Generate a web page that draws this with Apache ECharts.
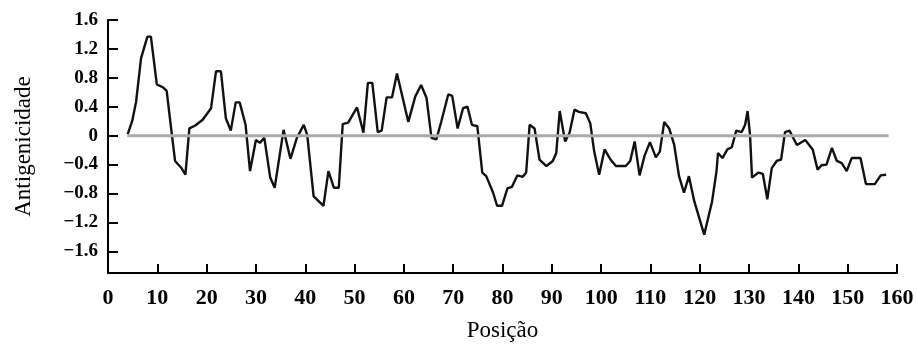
<!DOCTYPE html>
<html>
<head>
<meta charset="utf-8">
<script src="https://cdn.jsdelivr.net/npm/echarts@6/dist/echarts.min.js"></script>
<style>
  html, body { margin: 0; padding: 0; background: #fff; }
  #chart { width: 917px; height: 347px; }
</style>
</head>
<body>
<div id="chart"></div>
<script>
// posição (x) e antigenicidade (y)
var positions = [
  4.0, 4.9, 5.7, 6.7, 7.6, 8.0, 8.7, 9.9, 11.1, 11.9, 12.8, 13.6, 14.8, 15.7,
  16.5, 17.7, 19.2, 20.9, 21.9, 22.9, 23.9, 24.9, 25.9, 26.7, 27.9, 28.8,
  30.0, 30.8, 31.7, 32.9, 33.8, 35.6, 37.0, 38.3, 39.7, 40.4, 41.7, 43.7,
  44.7, 45.8, 46.8, 47.6, 48.7, 50.5, 51.8, 52.7, 53.6, 54.7, 55.5, 56.5,
  57.6, 58.6, 60.9, 62.3, 63.5, 64.6, 65.6, 66.6, 67.6, 69.0, 69.8, 70.9,
  72.0, 72.9, 73.8, 74.9, 75.9, 76.7, 78.1, 78.9, 79.9, 81.0, 81.9, 83.0,
  84.1, 84.8, 85.5, 86.5, 87.5, 88.9, 90.2, 90.9, 91.6, 92.7, 93.6, 94.6,
  95.5, 96.9, 97.8, 98.6, 99.6, 100.7, 101.9, 103.0, 105.0, 105.9, 106.8,
  107.8, 108.8, 109.9, 111.1, 111.9, 112.8, 113.8, 114.8, 115.8, 116.8,
  117.8, 118.9, 120.9, 122.5, 123.4, 123.7, 124.6, 125.6, 126.5, 127.4,
  128.5, 129.2, 129.7, 130.2, 130.6, 131.9, 132.8, 133.7, 134.6, 135.6,
  136.5, 137.3, 138.2, 139.7, 141.4, 142.9, 143.9, 144.7, 145.7, 146.8,
  147.8, 148.8, 149.8, 150.8, 152.6, 153.7, 155.5, 156.7, 157.8
];
var antigenicity = [
  0.02, 0.2, 0.47, 1.07, 1.28, 1.37, 1.37, 0.71, 0.67, 0.62, 0.1, -0.35, -0.44, -0.54,
  0.1, 0.14, 0.22, 0.38, 0.89, 0.89, 0.24, 0.07, 0.46, 0.46, 0.15, -0.49,
  -0.06, -0.1, -0.03, -0.58, -0.72, 0.08, -0.32, -0.03, 0.15, 0.01, -0.84, -0.97,
  -0.49, -0.72, -0.72, 0.16, 0.18, 0.39, 0.04, 0.73, 0.73, 0.05, 0.07, 0.53,
  0.53, 0.86, 0.19, 0.54, 0.70, 0.52, -0.03, -0.05, 0.2, 0.57, 0.55, 0.1,
  0.38, 0.4, 0.15, 0.13, -0.51, -0.56, -0.79, -0.97, -0.97, -0.73, -0.71, -0.55,
  -0.57, -0.51, 0.15, 0.1, -0.33, -0.42, -0.35, -0.24, 0.34, -0.08, 0.04, 0.36,
  0.33, 0.31, 0.17, -0.22, -0.54, -0.19, -0.33, -0.42, -0.42, -0.35, -0.08,
  -0.55, -0.28, -0.09, -0.3, -0.22, 0.19, 0.1, -0.12, -0.56, -0.79,
  -0.56, -0.91, -1.37, -0.91, -0.49, -0.24, -0.31, -0.19, -0.16, 0.07,
  0.05, 0.15, 0.34, 0.01, -0.58, -0.51, -0.53, -0.88, -0.45, -0.35,
  -0.33, 0.05, 0.07, -0.13, -0.06, -0.19, -0.47, -0.41, -0.4, -0.17,
  -0.35, -0.38, -0.49, -0.31, -0.31, -0.67, -0.67, -0.55, -0.54
];
// linha de referência em zero
var zeroLineX = [3.9, 158.3];
var zeroLineY = [0, 0];
var yTicks = [-1.6, -1.2, -0.8, -0.4, 0, 0.4, 0.8, 1.2, 1.6];

var lineData = positions.map(function (p, i) { return [p, antigenicity[i]]; });
var zeroData = zeroLineX.map(function (p, i) { return [p, zeroLineY[i]]; });

var nameFont = {
  color: "#000",
  fontFamily: "Liberation Serif",
  fontSize: 23,
};

var chart = echarts.init(document.getElementById("chart"));
chart.setOption({
  animation: false,
  grid: { left: 108, right: 20, top: 20, bottom: 73 },
  xAxis: {
    type: "value",
    min: 0,
    max: 160,
    interval: 10,
    name: "Posição",
    nameLocation: "middle",
    nameGap: 46,
    nameTextStyle: nameFont,
    axisLine: { show: true, onZero: false, lineStyle: { color: "#000", width: 2 } },
    axisTick: { show: true, inside: true, length: 9, lineStyle: { color: "#000", width: 2 } },
    axisLabel: {
      margin: 14,
      color: "#000",
      fontFamily: "Liberation Serif",
      fontWeight: "bold",
      fontSize: 22,
    },
    splitLine: { show: false },
  },
  yAxis: {
    type: "value",
    min: -1.9,
    max: 1.6,
    name: "Antigenicidade",
    nameLocation: "middle",
    nameGap: 73,
    nameTextStyle: nameFont,
    axisLine: { show: true, lineStyle: { color: "#000", width: 2 } },
    axisTick: {
      show: true,
      inside: true,
      length: 10,
      customValues: yTicks,
      lineStyle: { color: "#000", width: 2 },
    },
    axisLabel: {
      margin: 10,
      customValues: yTicks,
      color: "#000",
      fontFamily: "Liberation Serif",
      fontWeight: "bold",
      fontSize: 19,
      formatter: function (v) {
        if (Math.abs(v) < 1e-9) return "0";
        var s = Math.abs(v).toFixed(1);
        return v < 0 ? "\u2212" + s : s;
      },
    },
    splitLine: { show: false },
  },
  series: [
    {
      name: "Antigenicidade",
      type: "line",
      data: lineData,
      showSymbol: false,
      symbol: "none",
      lineStyle: { color: "#111", width: 2.4 },
      z: 2,
    },
    {
      name: "zero",
      type: "line",
      data: zeroData,
      showSymbol: false,
      symbol: "none",
      lineStyle: { color: "#aaaaaa", width: 3 },
      z: 3,
    },
  ],
});
</script>
</body>
</html>
